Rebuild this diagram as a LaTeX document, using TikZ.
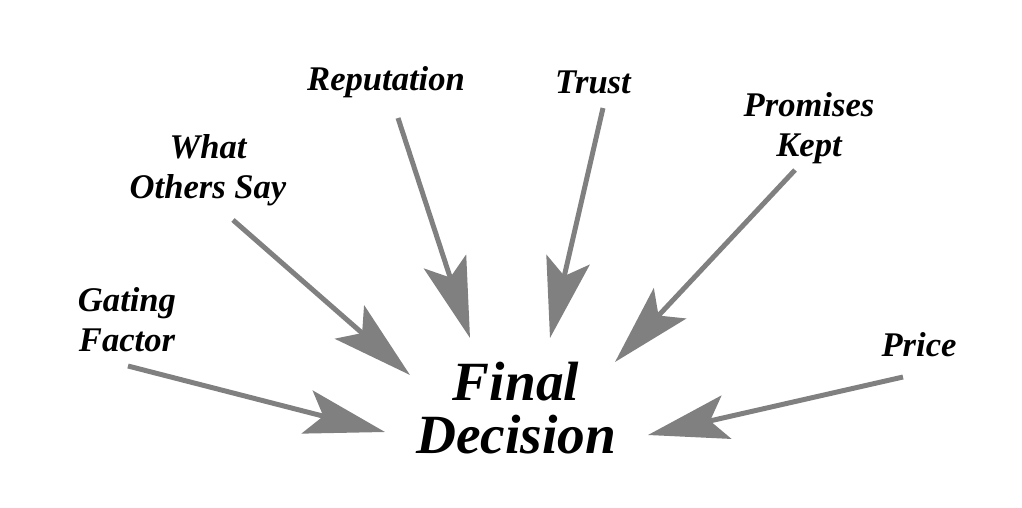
\documentclass[tikz,border=0pt]{standalone}
\usepackage{fontspec}
\setmainfont{Liberation Serif}
\usetikzlibrary{arrows.meta}
\begin{document}
\begin{tikzpicture}[x=0.0254cm,y=-0.0254cm,
  lbl/.style={font=\fontsize{25}{29}\selectfont\bfseries\itshape,align=center,inner sep=0pt},
  big/.style={font=\fontsize{40}{38}\selectfont\bfseries\itshape,align=center,inner sep=0pt},
  arr/.style={draw={rgb,255:red,128;green,128;blue,128},line width=3.6pt,
    -{Stealth[length=58pt,width=32pt,inset=12pt,fill={rgb,255:red,128;green,128;blue,128}]}}]
\useasboundingbox (0,0) rectangle (1022,507);
\node[big] (fd) at (516,408) {Final\\Decision};
\node[lbl] (gf) at (127,320) {Gating\\Factor};
\node[lbl] (wo) at (208,170) {What\\Others Say};
\node[lbl] (re) at (386,82) {Reputation};
\node[lbl] (tr) at (593,82) {Trust};
\node[lbl] (pk) at (809,128) {Promises\\Kept};
\node[lbl] (pr) at (919,345) {Price};
\coordinate (gf1) at (128,366); \coordinate (gf2) at (385,432);
\coordinate (wo1) at (233,220); \coordinate (wo2) at (410,375);
\coordinate (re1) at (398,118); \coordinate (re2) at (470,338);
\coordinate (tr1) at (603,108); \coordinate (tr2) at (550,338);
\coordinate (pk1) at (795,170); \coordinate (pk2) at (615,362);
\coordinate (pr1) at (903,377); \coordinate (pr2) at (648,435);
\foreach \a in {gf,wo,re,tr,pk,pr} \draw[arr] (\a1) -- (\a2);
\end{tikzpicture}
\end{document}
